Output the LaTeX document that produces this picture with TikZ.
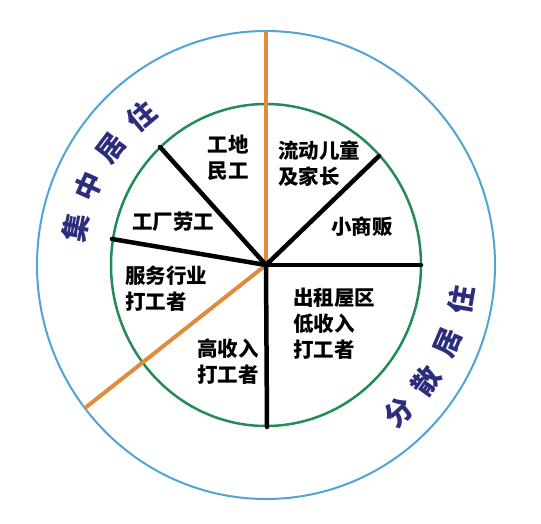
\documentclass[tikz,border=0pt]{standalone}
\usepackage{fontspec}
\newfontfamily\cjk{Noto Sans CJK SC}
\definecolor{ringblue}{RGB}{80, 165, 210}
\definecolor{ringgreen}{RGB}{35, 140, 85}
\definecolor{splitorange}{RGB}{225, 140, 60}
\definecolor{labelblue}{RGB}{45, 45, 125}
\usetikzlibrary{calc}

\begin{document}
\begin{tikzpicture}[x=1pt, y=-1pt,
  spoke/.style={line width=4.5pt, black},
  split/.style={line width=4pt, splitorange},
  group/.style={inner sep=0pt, font=\cjk\bfseries\fontsize{20.5}{26}\selectfont, align=left},
  ring/.style={inner sep=0pt, font=\cjk\bfseries\fontsize{28}{28}\selectfont, text=labelblue},
]
\useasboundingbox[fill=white] (0,0) rectangle (541,523);

% Circles
\coordinate (o) at (266,265);
\draw[ringblue, line width=2pt] (o) ellipse [x radius=229, y radius=234];
\draw[ringgreen, line width=2.5pt] (o) ellipse [x radius=155, y radius=161];

% Orange split
\coordinate (top) at (266,31);
\coordinate (low) at (85,408);
\draw[split] (o) -- (top);
\draw[split] (o) -- (low);

% Spokes
\coordinate (s1) at (160,147);
\coordinate (s2) at (112,239);
\coordinate (s3) at (379,156);
\coordinate (s4) at (421,265);
\coordinate (s5) at (267,427);
\foreach \s in {s1,s2,s3,s4,s5}
  \draw[spoke, line cap=round] (o) -- (\s);

% Groups
\node[group, align=center] (site) at (228,158) {工地\\民工};
\node[group, anchor=west] (kids) at (278,164) {流动儿童\\及家长};
\node[group] (vendor) at (362,227) {小商贩};
\node[group] (factory) at (173,222) {工厂劳工};
\node[group, anchor=west] (service) at (125,289) {服务行业\\打工者};
\node[group, anchor=west] (high) at (197,362) {高收入\\打工者};
\node[group, anchor=west] (rent) at (293,324) {出租屋区\\低收入\\打工者};

% Ring labels
\foreach \ch/\ang [count=\i] in {集/169, 中/156, 居/143, 住/130}
  \node[ring, rotate=\ang-90] (jz\i) at ($(o)+(\ang:194pt)$) {\ch};
\foreach \ch/\ang [count=\i] in {分/-48, 散/-36, 居/-23, 住/-10}
  \node[ring, rotate=\ang+90] (fs\i) at ($(o)+(\ang:198pt)$) {\ch};
\end{tikzpicture}
\end{document}
